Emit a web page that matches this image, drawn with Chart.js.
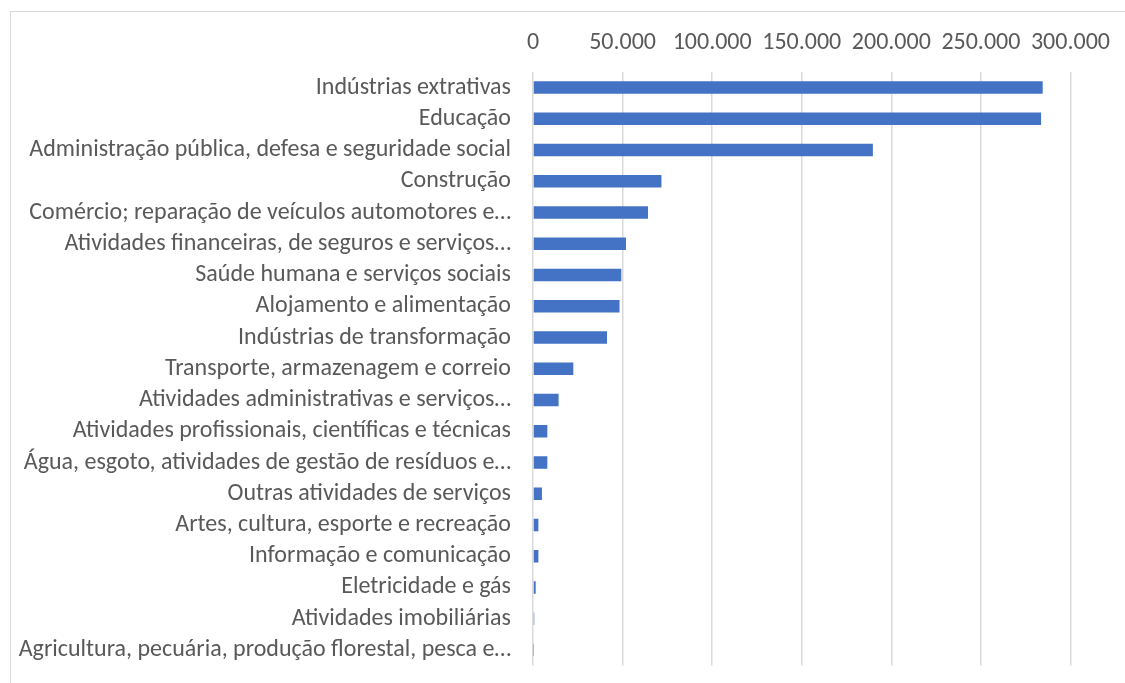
<!DOCTYPE html>
<html>
<head>
<meta charset="utf-8">
<script src="https://cdn.jsdelivr.net/npm/chart.js@4/dist/chart.umd.min.js"></script>
<style>
  html, body { margin: 0; padding: 0; background: #ffffff; overflow: hidden; }
  #wrap { position: absolute; left: 10px; top: 11px; width: 1115px; height: 720px;
          border-left: 1.5px solid #d9d9d9; border-top: 1.5px solid #d9d9d9; box-sizing: border-box; }
  #c { display: block; }
</style>
</head>
<body>
<div id="wrap"><canvas id="c" width="1114" height="690"></canvas></div>
<script>
const categories = [
  "Indústrias extrativas",
  "Educação",
  "Administração pública, defesa e seguridade social",
  "Construção",
  "Comércio; reparação de veículos automotores e…",
  "Atividades financeiras, de seguros e serviços…",
  "Saúde humana e serviços sociais",
  "Alojamento e alimentação",
  "Indústrias de transformação",
  "Transporte, armazenagem e correio",
  "Atividades administrativas e serviços…",
  "Atividades profissionais, científicas e técnicas",
  "Água, esgoto, atividades de gestão de resíduos e…",
  "Outras atividades de serviços",
  "Artes, cultura, esporte e recreação",
  "Informação e comunicação",
  "Eletricidade e gás",
  "Atividades imobiliárias",
  "Agricultura, pecuária, produção florestal, pesca e…"
];
const values = [
  284500, 283600, 189700, 71700, 64200, 51900, 49300, 48300, 41300,
  22500, 14300, 8000, 8000, 5000, 3000, 3000, 1500, 700, 200
];
const tickValues = [0, 50000, 100000, 150000, 200000, 250000, 300000];

const FONT = "Carlito, Calibri, Lato, 'Liberation Sans', sans-serif";
const fmt = v => v === 0 ? "0" : v.toLocaleString('de-DE');

new Chart(document.getElementById('c'), {
  type: 'bar',
  data: {
    labels: categories,
    datasets: [{
      data: values,
      backgroundColor: '#4472C4',
      borderWidth: 0,
      barPercentage: 0.8,
      categoryPercentage: 0.5
    }]
  },
  options: {
    indexAxis: 'y',
    responsive: false,
    animation: false,
    devicePixelRatio: 1,
    layout: { padding: { left: 0, right: 47, top: 0, bottom: 0 } },
    plugins: { legend: { display: false }, tooltip: { enabled: false } },
    scales: {
      x: {
        position: 'top',
        min: 0, max: 300000,
        afterBuildTicks: s => { s.ticks = tickValues.map(v => ({ value: v })); },
        afterFit: s => { s.height = 60; },
        border: { display: false },
        grid: { color: '#d9d9d9', lineWidth: 1.5, drawTicks: false },
        ticks: {
          color: '#595959',
          font: { family: FONT, size: 24 },
          padding: 15,
          maxRotation: 0,
          autoSkip: false,
          callback: v => fmt(v)
        }
      },
      y: {
        afterFit: s => { s.width = 522; },
        border: { display: false },
        grid: { display: false, drawTicks: false },
        ticks: {
          color: '#595959',
          font: { family: FONT, size: 24 },
          padding: 22,
          autoSkip: false
        }
      }
    }
  }
});
</script>
</body>
</html>
